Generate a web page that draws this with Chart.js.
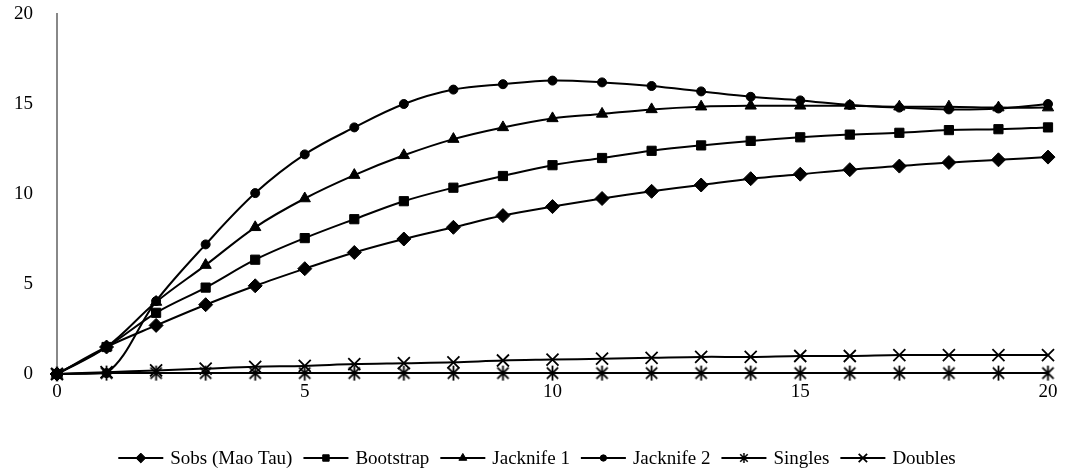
<!DOCTYPE html>
<html>
<head>
<meta charset="utf-8">
<script src="https://cdn.jsdelivr.net/npm/chart.js@4/dist/chart.umd.min.js"></script>
<style>
  html, body { margin: 0; padding: 0; background: #fff; }
  #wrap { width: 1074px; height: 474px; }
</style>
</head>
<body>
<div id="wrap"><canvas id="chart" width="1074" height="474"></canvas></div>
<script>
const samples = [0, 1, 2, 3, 4, 5, 6, 7, 8, 9, 10, 11, 12, 13, 14, 15, 16, 17, 18, 19, 20];
const sobs = [0, 1.5, 2.7, 3.85, 4.9, 5.85, 6.75, 7.5, 8.15, 8.8, 9.3, 9.75, 10.15, 10.5, 10.85, 11.1, 11.35, 11.55, 11.75, 11.9, 12.05];
const bootstrap = [0, 1.5, 3.4, 4.8, 6.35, 7.55, 8.6, 9.6, 10.35, 11.0, 11.6, 12.0, 12.4, 12.7, 12.95, 13.15, 13.3, 13.4, 13.55, 13.6, 13.7];
const jacknife1 = [0, 1.5, 4.0, 6.05, 8.15, 9.75, 11.05, 12.15, 13.05, 13.7, 14.2, 14.45, 14.7, 14.85, 14.9, 14.9, 14.9, 14.85, 14.85, 14.8, 14.8];
const jacknife2 = [0, 0.05, 4.05, 7.2, 10.05, 12.2, 13.7, 15.0, 15.8, 16.1, 16.3, 16.2, 16.0, 15.7, 15.4, 15.2, 14.95, 14.8, 14.7, 14.75, 15.0];
const singles = [0, 0.05, 0.05, 0.05, 0.05, 0.05, 0.05, 0.05, 0.05, 0.05, 0.05, 0.05, 0.05, 0.05, 0.05, 0.05, 0.05, 0.05, 0.05, 0.05, 0.05];
const doubles = [0, 0.1, 0.2, 0.3, 0.4, 0.45, 0.55, 0.6, 0.65, 0.75, 0.8, 0.85, 0.9, 0.95, 0.95, 1.0, 1.0, 1.05, 1.05, 1.05, 1.05];
const seriesNames = ['Sobs (Mao Tau)', 'Bootstrap', 'Jacknife 1', 'Jacknife 2', 'Singles', 'Doubles'];
const yTicks = [0, 5, 10, 15, 20];
const xTicks = [0, 5, 10, 15, 20];

const FONT = '"Liberation Serif", "Times New Roman", serif';

// six-armed asterisk like the Excel marker
function asterisk(size, lw) {
    const c = document.createElement('canvas');
    c.width = size; c.height = size;
    const g = c.getContext('2d');
    const m = size / 2, r = size / 2 - 1;
    const d = r * 0.75;
    g.strokeStyle = '#000';
    g.lineWidth = lw;
    g.beginPath();
    g.moveTo(m, m - r); g.lineTo(m, m + r);
    g.moveTo(m - d, m - d); g.lineTo(m + d, m + d);
    g.moveTo(m + d, m - d); g.lineTo(m - d, m + d);
    g.stroke();
    return c;
}

function pts(values) {
    return samples.map((s, i) => ({ x: s, y: values[i] }));
}

function makeSet(label, values, style, radius, filled) {
    return {
        label: label,
        data: pts(values),
        borderColor: '#000',
        backgroundColor: filled ? '#000' : 'rgba(0,0,0,0)',
        borderWidth: 2,
        pointStyle: style,
        pointRadius: radius,
        pointBorderWidth: filled ? 1 : 1.8,
        pointBackgroundColor: '#000',
        pointBorderColor: '#000',
        tension: 0.35,
        clip: false,
        fill: false
    };
}

const starBig = asterisk(17, 1.8);
const starSmall = asterisk(12, 1.5);

const datasets = [
    makeSet(seriesNames[0], sobs, 'rectRot', 7, true),
    makeSet(seriesNames[1], bootstrap, 'rect', 6.5, true),
    makeSet(seriesNames[2], jacknife1, 'triangle', 6.5, true),
    makeSet(seriesNames[3], jacknife2, 'circle', 4.5, true),
    makeSet(seriesNames[4], singles, starBig, 8, false),
    makeSet(seriesNames[5], doubles, 'crossRot', 8.5, false)
];

// legend: short line with the marker in the middle, then the name
const lineLegend = {
    id: 'lineLegend',
    afterDraw(chart) {
        const ctx = chart.ctx;
        ctx.save();
        ctx.font = '19px ' + FONT;
        ctx.textBaseline = 'middle';
        ctx.fillStyle = '#000';
        const lineW = 45, gapA = 7, gapB = 11;
        let total = 0;
        const widths = chart.data.datasets.map(d => ctx.measureText(d.label).width);
        widths.forEach((w, i) => { total += lineW + gapA + w + (i < widths.length - 1 ? gapB : 0); });
        let x = (chart.width - total) / 2;
        const y = 458;
        chart.data.datasets.forEach((d, i) => {
            ctx.strokeStyle = '#000';
            ctx.lineWidth = 2;
            ctx.beginPath();
            ctx.moveTo(x, y);
            ctx.lineTo(x + lineW, y);
            ctx.stroke();
            ctx.fillStyle = '#000';
            ctx.lineWidth = d.pointBorderWidth;
            const style = d.pointStyle === starBig ? starSmall : d.pointStyle;
            Chart.helpers.drawPoint(ctx, {
                pointStyle: style,
                radius: d.pointRadius * 0.7,
                rotation: 0,
                borderWidth: d.pointBorderWidth
            }, x + lineW / 2, y);
            ctx.fillStyle = '#000';
            ctx.fillText(d.label, x + lineW + gapA, y + 1);
            x += lineW + gapA + widths[i] + gapB;
        });
        ctx.restore();
    }
};

new Chart(document.getElementById('chart'), {
    type: 'line',
    data: { datasets: datasets },
    plugins: [lineLegend],
    options: {
        responsive: false,
        animation: false,
        layout: { padding: { top: 14, right: 26, bottom: 60, left: 0 } },
        plugins: {
            legend: { display: false },
            tooltip: { enabled: false }
        },
        scales: {
            x: {
                type: 'linear',
                min: 0,
                max: 20,
                afterFit(scale) { scale.height = 40; scale.paddingLeft = 0; scale.paddingRight = 0; },
                afterBuildTicks(scale) { scale.ticks = xTicks.map(v => ({ value: v })); },
                grid: { display: false, drawTicks: false },
                border: { display: false },
                ticks: { color: '#000', padding: 7, font: { family: FONT, size: 19 } }
            },
            y: {
                min: 0,
                max: 20,
                afterFit(scale) { scale.width = 57; scale.paddingTop = 0; scale.paddingBottom = 0; },
                afterBuildTicks(scale) { scale.ticks = yTicks.map(v => ({ value: v })); },
                grid: { display: false, drawTicks: false },
                border: { display: true, color: '#888', width: 2 },
                ticks: { color: '#000', padding: 24, font: { family: FONT, size: 19 } }
            }
        }
    }
});
</script>
</body>
</html>
